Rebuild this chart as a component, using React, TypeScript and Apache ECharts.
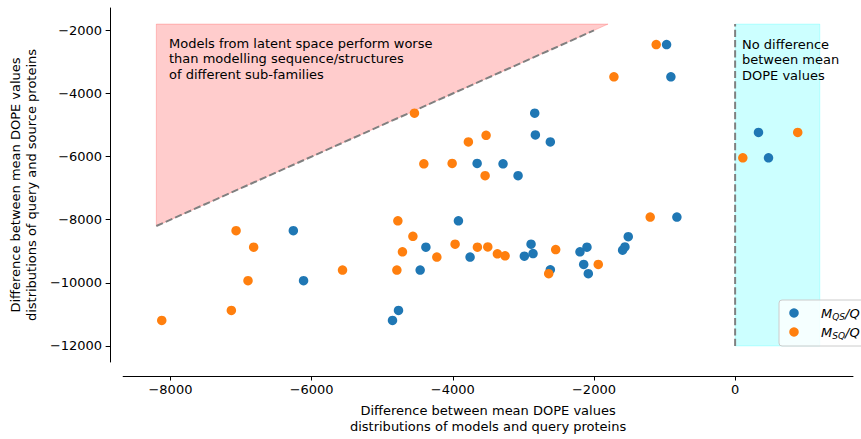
import React, { useEffect, useRef } from "react";
import * as echarts from "echarts";

// M_QS/Q (blue)
const blueX = [-2839, -2830, -2618, -3655, -3288, -3075, -971, -910, -3920, -4381, -4462, -3755, -2986, -2891, -2863, -2618, -2198, -2099, -2145, -2080, -1594, -1561, -1514, -825, -4769, -4854, -6259, -6114, 331, 473];
const blueY = [-4622, -5314, -5535, -6218, -6227, -6605, -2450, -3470, -8034, -8871, -9595, -9186, -9155, -8777, -9073, -9586, -9019, -8871, -9419, -9712, -8966, -8862, -8538, -7917, -10876, -11191, -8349, -9932, -5233, -6038];
// M_SQ/Q (orange)
const orangeX = [-4543, -3528, -3779, -4410, -4009, -3542, -1118, -1717, -4778, -4565, -4713, -4226, -4792, -3967, -3651, -3504, -3368, -3259, -2641, -2542, -1939, -1203, -7070, -6821, -5562, -6901, -7137, -8123, 887, 109];
const orangeY = [-4622, -5327, -5535, -6227, -6218, -6605, -2450, -3470, -8034, -8525, -9019, -9186, -9595, -8777, -8871, -8862, -9082, -9145, -9712, -8947, -9419, -7917, -8349, -8871, -9595, -9932, -10876, -11191, -5233, -6038];

const xTicks = [-8000, -6000, -4000, -2000, 0];
const yTicks = [-12000, -10000, -8000, -6000, -4000, -2000];

const redRegion = [[-8200, -8200], [-8200, -1800], [-1800, -1800]];
const cyanRegion = [[0, -12000], [0, -1800], [1200, -1800], [1200, -12000]];
const diagLine = [[-8200, -8200], [-2000, -2000]];
const zeroLine = [[0, -12000], [0, -1800]];

const FONT = "DejaVu Sans";
const minus = (v: number) => String(v).replace("-", "\u2212");

export default function App() {
  const ref = useRef<HTMLDivElement>(null);
  useEffect(() => {
    if (!ref.current) return;
    const chart = echarts.init(ref.current, null, { renderer: "svg" });
    const zip = (xs: number[], ys: number[]) => xs.map((x, i) => [x, ys[i]]);
    const polySeries = (pts: number[][], fill: string, stroke: string, z: number) => ({
      type: "custom",
      z,
      silent: true,
      data: [pts[0]],
      renderItem: (_p: any, api: any) => ({
        type: "polygon",
        shape: { points: pts.map((p) => api.coord(p)) },
        style: { fill, stroke, lineWidth: 1 },
      }),
    });
    const dashStyle = { color: "#808080", width: 2, type: [7.2, 3.1] };
    chart.setOption({
      animation: false,
      grid: { left: 121, right: 8, top: 8, bottom: 74 },
      xAxis: {
        type: "value",
        min: -8670,
        max: 1670,
        offset: 14,
        splitLine: { show: false },
        axisLine: { show: true, onZero: false, lineStyle: { color: "#000", width: 1 } },
        axisTick: { show: true, length: 4.5, customValues: xTicks, lineStyle: { color: "#000" } },
        axisLabel: { customValues: xTicks, formatter: minus, fontSize: 13, fontFamily: FONT, color: "#000", margin: 7 },
        name: "Difference between mean DOPE values\ndistributions of models and query proteins",
        nameLocation: "middle",
        nameGap: 27,
        nameTextStyle: { fontSize: 13, fontFamily: FONT, color: "#000", lineHeight: 15.5 },
      },
      yAxis: {
        type: "value",
        min: -12510,
        max: -1290,
        offset: 13,
        splitLine: { show: false },
        axisLine: { show: true, onZero: false, lineStyle: { color: "#000", width: 1 } },
        axisTick: { show: true, length: 4.5, customValues: yTicks, lineStyle: { color: "#000" } },
        axisLabel: { customValues: yTicks, formatter: minus, fontSize: 13, fontFamily: FONT, color: "#000", margin: 8 },
        name: "Difference between mean DOPE values\ndistributions of query and source proteins",
        nameLocation: "middle",
        nameGap: 64,
        nameTextStyle: { fontSize: 13, fontFamily: FONT, color: "#000", lineHeight: 15.5 },
      },
      series: [
        polySeries(redRegion, "rgba(255,0,0,0.2)", "rgba(255,0,0,0.2)", 1),
        polySeries(cyanRegion, "rgba(0,255,255,0.2)", "rgba(0,255,255,0.2)", 1),
        {
          type: "line",
          z: 2,
          silent: true,
          symbol: "none",
          data: diagLine,
          lineStyle: dashStyle,
        },
        {
          type: "line",
          z: 2,
          silent: true,
          symbol: "none",
          data: zeroLine,
          lineStyle: dashStyle,
        },
        {
          name: "M_QS/Q",
          type: "scatter",
          z: 3,
          symbolSize: 9.5,
          itemStyle: { color: "#1f77b4", opacity: 1 },
          data: zip(blueX, blueY),
        },
        {
          name: "M_SQ/Q",
          type: "scatter",
          z: 3,
          symbolSize: 9.5,
          itemStyle: { color: "#ff7f0e", opacity: 1 },
          data: zip(orangeX, orangeY),
        },
      ],
      graphic: [
        {
          type: "text",
          x: 169,
          y: 36,
          z: 10,
          style: {
            text: "Models from latent space perform worse\nthan modelling sequence/structures\nof different sub-families",
            fontSize: 13,
            fontFamily: FONT,
            fill: "#000",
            lineHeight: 15.3,
            verticalAlign: "top",
          },
        },
        {
          type: "text",
          x: 742,
          y: 37,
          z: 10,
          style: {
            text: "No difference\nbetween mean\nDOPE values",
            fontSize: 13,
            fontFamily: FONT,
            fill: "#000",
            lineHeight: 15.3,
            verticalAlign: "top",
          },
        },
        {
          type: "rect",
          z: 20,
          shape: { x: 779, y: 300, width: 100, height: 46, r: 3 },
          style: { fill: "rgba(255,255,255,0.8)", stroke: "#cccccc", lineWidth: 1 },
        },
        {
          type: "circle",
          z: 21,
          shape: { cx: 794, cy: 313, r: 4.75 },
          style: { fill: "#1f77b4" },
        },
        {
          type: "circle",
          z: 21,
          shape: { cx: 794, cy: 332, r: 4.75 },
          style: { fill: "#ff7f0e" },
        },
        {
          type: "text",
          z: 21,
          x: 821,
          y: 305,
          style: {
            text: "{m|M}{s|QS}{m|/Q}",
            verticalAlign: "top",
            rich: {
              m: { fontSize: 13, fontStyle: "italic", fontFamily: FONT, fill: "#000", lineHeight: 16, verticalAlign: "middle" },
              s: { fontSize: 9, fontStyle: "italic", fontFamily: FONT, fill: "#000", lineHeight: 8, verticalAlign: "bottom" },
            },
          },
        },
        {
          type: "text",
          z: 21,
          x: 821,
          y: 324,
          style: {
            text: "{m|M}{s|SQ}{m|/Q}",
            verticalAlign: "top",
            rich: {
              m: { fontSize: 13, fontStyle: "italic", fontFamily: FONT, fill: "#000", lineHeight: 16, verticalAlign: "middle" },
              s: { fontSize: 9, fontStyle: "italic", fontFamily: FONT, fill: "#000", lineHeight: 8, verticalAlign: "bottom" },
            },
          },
        },
      ],
    });
    return () => chart.dispose();
  }, []);
  return (
    <div
      ref={ref}
      style={{ position: "fixed", left: 0, top: 0, width: 861, height: 439, background: "#fff" }}
    />
  );
}
